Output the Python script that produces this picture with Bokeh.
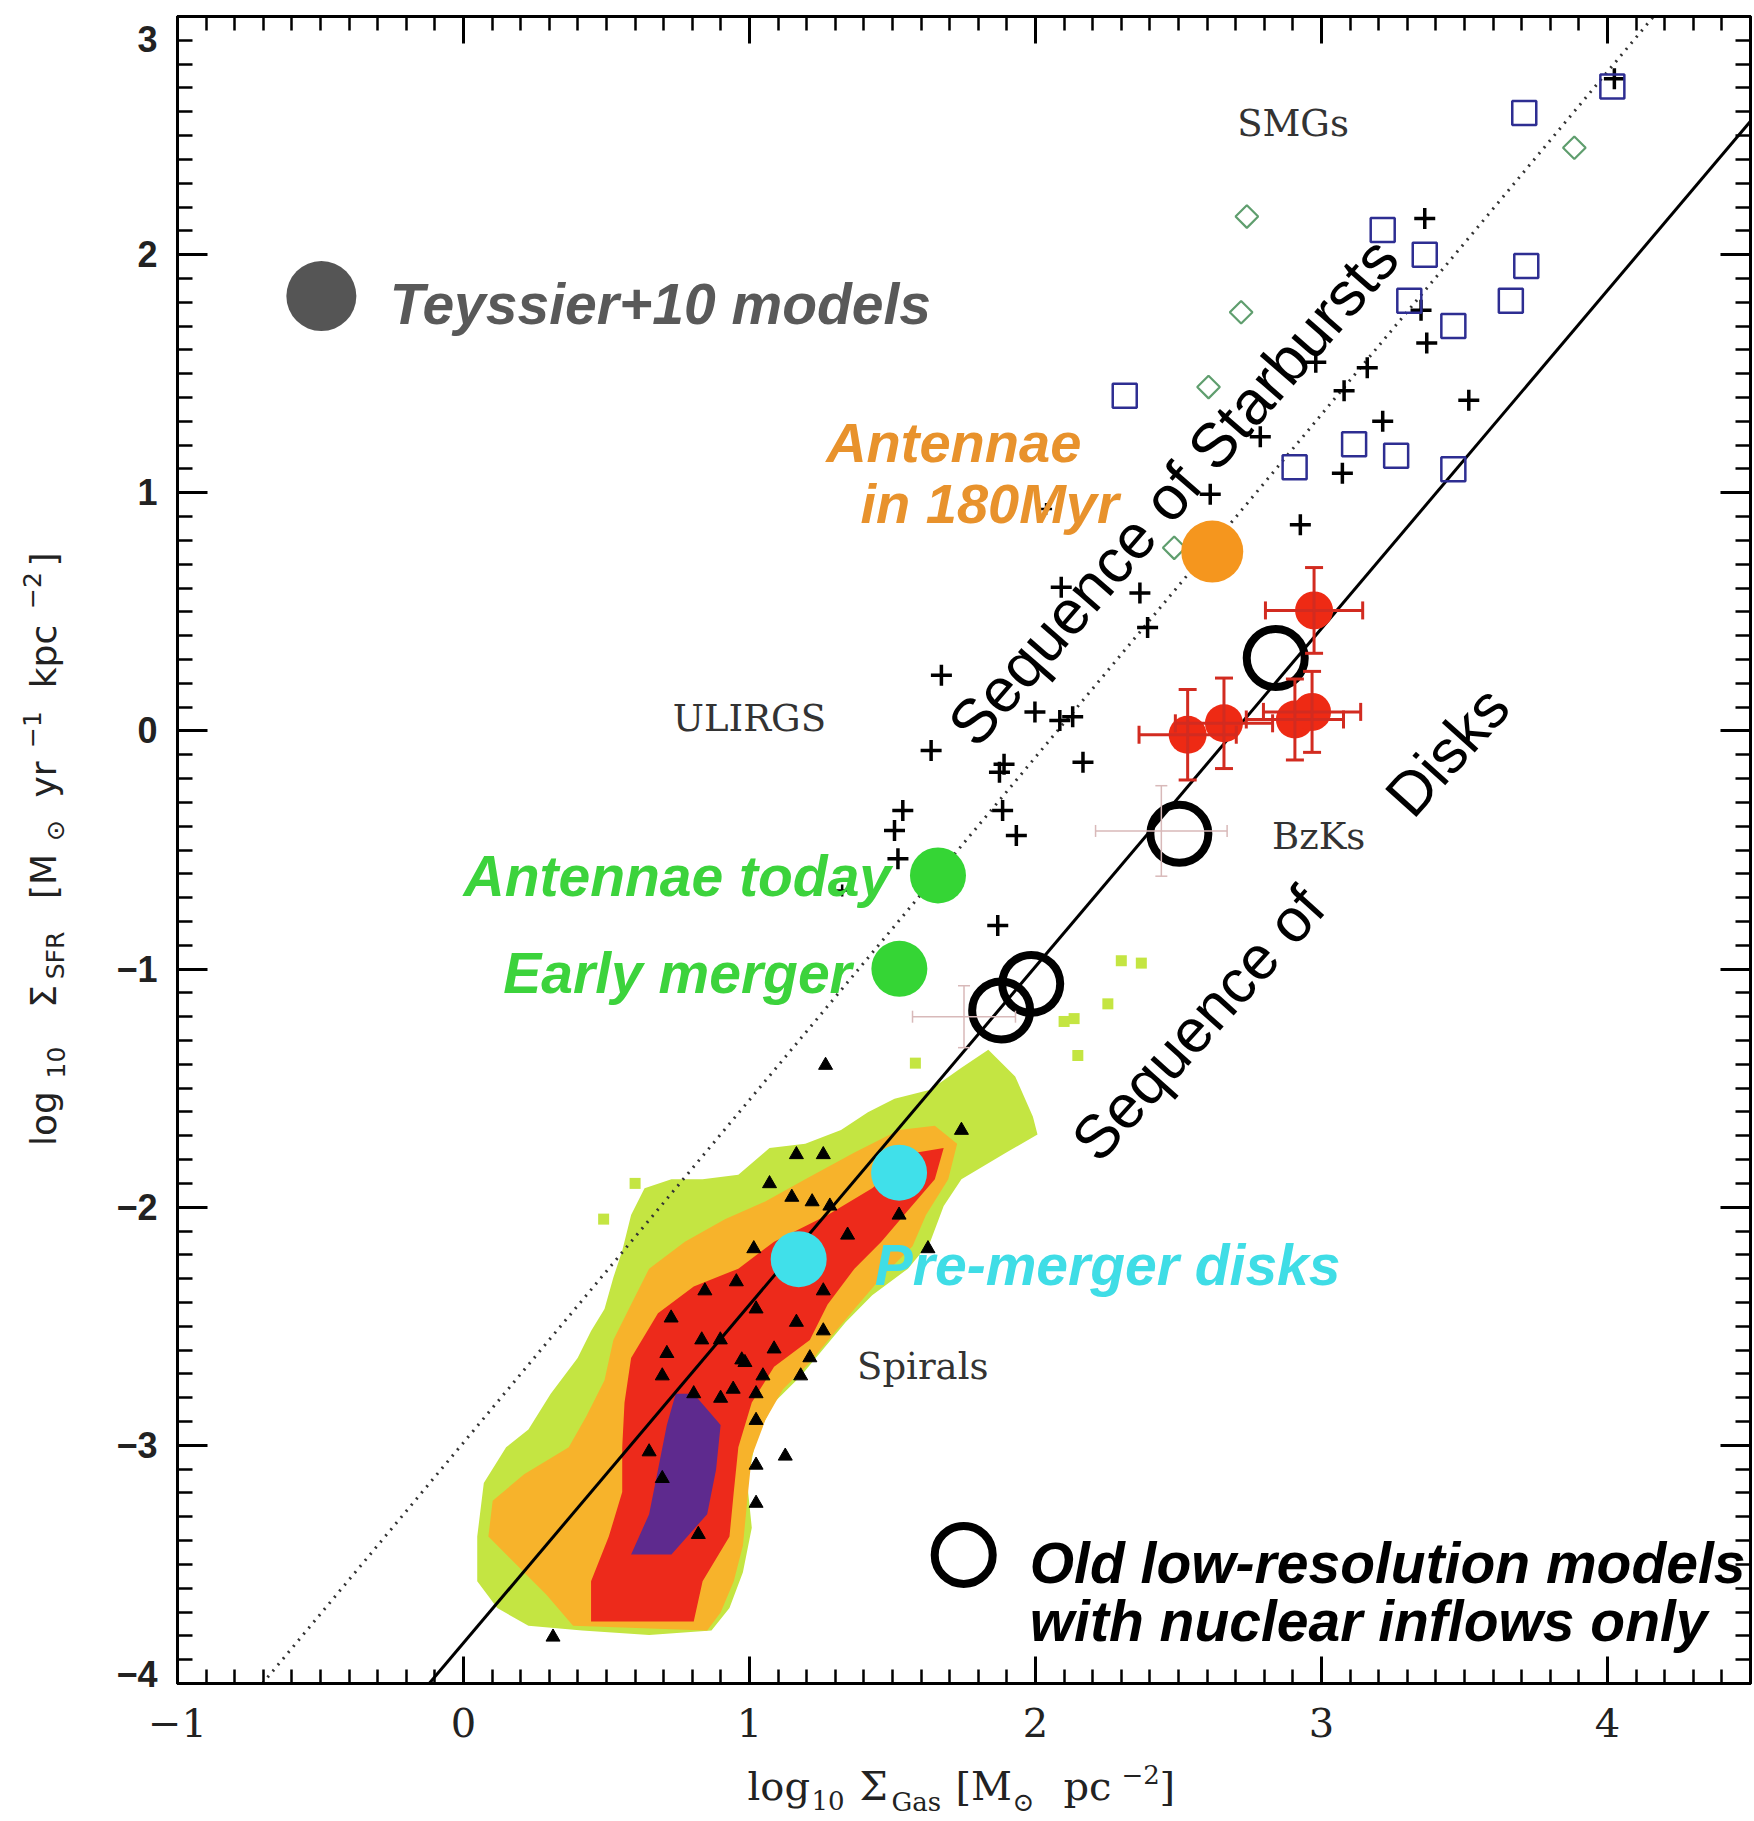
import numpy as np
from bokeh.plotting import figure
from bokeh.layouts import row, column
from bokeh.models import (ColumnDataSource, Range1d, LinearAxis, FixedTicker, Label,
                          Whisker, TeeHead)
from bokeh.embed import file_html
from bokeh.resources import INLINE

# ---------------- data ----------------
# Kennicutt-Schmidt sequences (end points of the drawn lines)
disk_line_x = [-0.12, 4.5]
disk_line_y = [-4.0, 2.56]
sb_line_x = [-0.703, 4.161]
sb_line_y = [-4.0, 3.0]

# ULIRGs (black plus signs)
ulirg_x = [4.024, 3.361, 3.348, 3.368, 2.980, 3.160, 3.079, 3.515, 3.214, 2.786, 3.073, 2.611,
           2.926, 2.365, 2.090, 2.392, 1.671, 1.998, 2.085, 2.130, 1.635, 2.166, 1.874, 1.890,
           1.885, 1.536, 1.507, 1.933, 1.519, 1.868]
ulirg_y = [2.739, 2.152, 1.767, 1.629, 1.548, 1.525, 1.428, 1.389, 1.300, 1.235, 1.082, 0.994,
           0.866, 0.579, 0.603, 0.434, 0.234, 0.079, 0.044, 0.060, -0.082, -0.131, -0.173, -0.140,
           -0.334, -0.334, -0.418, -0.439, -0.537, -0.817]
ulirg_small_x = [2.037, 1.324]
ulirg_small_y = [0.932, -0.670]

# SMGs (blue open squares)
smg_x = [4.017, 3.709, 3.214, 3.361, 3.716, 3.307, 3.662, 3.461, 2.906, 3.114, 3.261, 3.461, 2.312]
smg_y = [2.706, 2.595, 2.103, 2.000, 1.952, 1.806, 1.806, 1.700, 1.107, 1.204, 1.155, 1.099, 1.407]

# green open diamonds
dia_x = [3.884, 2.739, 2.719, 2.605, 2.485]
dia_y = [2.449, 2.160, 1.758, 1.444, 0.769]

# Spirals (black triangles)
tri_x = [1.266, 1.741, 1.164, 1.258, 1.070, 1.148, 1.219, 1.281, 1.523, 1.624, 1.015, 1.343,
         0.954, 0.844, 0.726, 1.258, 1.023, 1.164, 1.258, 0.898, 0.711, 1.086, 1.211, 0.984,
         0.695, 1.047, 1.179, 0.805, 0.899, 1.023, 1.023, 0.649, 1.023, 1.125, 1.023, 0.821,
         0.313, 0.695, 0.943, 0.973, 0.833]
tri_y = [-1.404, -1.677, -1.779, -1.779, -1.901, -1.958, -1.977, -1.995, -2.033, -2.174, -2.174,
         -2.117, -2.313, -2.351, -2.465, -2.351, -2.427, -2.483, -2.519, -2.557, -2.614, -2.595,
         -2.632, -2.652, -2.708, -2.708, -2.708, -2.783, -2.802, -2.783, -2.895, -3.027, -3.083,
         -3.045, -3.243, -3.374, -3.805, -3.139, -2.764, -2.641, -2.557]

# BzKs (red filled circles with error bars)
bzk_x = [2.974, 2.532, 2.659, 2.907, 2.967]
bzk_y = [0.506, -0.016, 0.032, 0.048, 0.080]
bzk_xerr = [0.17, 0.17, 0.17, 0.17, 0.17]
bzk_yerr = [0.18, 0.19, 0.19, 0.17, 0.17]

# faint error crosses
faint_x = [2.44, 1.75]
faint_y = [-0.42, -1.20]
faint_xerr = [0.23, 0.18]
faint_yerr = [0.19, 0.13]

# old low-resolution models (black open circles)
old_x = [2.840, 2.503, 1.985, 1.880]
old_y = [0.306, -0.432, -1.062, -1.174]

# Teyssier+10 model points
antennae180_x, antennae180_y = [2.618], [0.753]
antennae_today_x, antennae_today_y = [1.659], [-0.607]
early_merger_x, early_merger_y = [1.524], [-0.999]
premerger_x = [1.172, 1.523]
premerger_y = [-2.218, -1.855]

# legend symbols
legend_teyssier_x, legend_teyssier_y = [-0.497], [1.826]
legend_old_x, legend_old_y = [1.749], [-3.460]

# Spirals density map (contour levels as polygons)
green_px = [0.227, 0.118, 0.048, 0.048, 0.071, 0.149, 0.227, 0.305, 0.399, 0.446, 0.493, 0.524,
            0.555, 0.586, 0.633, 0.727, 0.836, 0.961, 1.070, 1.195, 1.320, 1.414, 1.507, 1.632,
            1.741, 1.835, 1.929, 1.991, 2.007, 1.898, 1.741, 1.679, 1.632, 1.554, 1.429, 1.336,
            1.258, 1.180, 1.086, 1.023, 0.992, 1.008, 0.977, 0.930, 0.867, 0.649, 0.415]
green_py = [-3.758, -3.683, -3.571, -3.383, -3.158, -3.008, -2.933, -2.783, -2.633, -2.520,
            -2.427, -2.295, -2.183, -2.033, -1.920, -1.883, -1.883, -1.864, -1.751, -1.733,
            -1.676, -1.601, -1.545, -1.507, -1.414, -1.339, -1.451, -1.620, -1.695, -1.770,
            -1.883, -1.995, -2.145, -2.258, -2.370, -2.483, -2.595, -2.708, -2.820, -2.970,
            -3.158, -3.346, -3.533, -3.683, -3.777, -3.796, -3.777]
orange_px = [0.383, 0.290, 0.181, 0.087, 0.102, 0.212, 0.368, 0.430, 0.493, 0.524, 0.586, 0.649,
             0.774, 0.914, 1.055, 1.195, 1.367, 1.523, 1.648, 1.726, 1.695, 1.617, 1.570, 1.461,
             1.367, 1.289, 1.211, 1.117, 1.055, 1.008, 0.992, 0.977, 0.945, 0.899, 0.852]
orange_py = [-3.758, -3.627, -3.496, -3.383, -3.233, -3.121, -3.008, -2.877, -2.727, -2.558,
             -2.408, -2.258, -2.145, -2.051, -1.976, -1.883, -1.770, -1.676, -1.658, -1.733,
             -1.883, -2.033, -2.164, -2.295, -2.427, -2.539, -2.652, -2.764, -2.895, -3.046,
             -3.233, -3.421, -3.571, -3.702, -3.777]
red_px = [0.446, 0.446, 0.508, 0.555, 0.555, 0.563, 0.586, 0.680, 0.805, 0.961, 1.086, 1.273,
          1.429, 1.585, 1.679, 1.648, 1.554, 1.461, 1.367, 1.273, 1.211, 1.086, 1.008, 0.961,
          0.945, 0.930, 0.836, 0.805]
red_py = [-3.740, -3.571, -3.383, -3.196, -3.008, -2.820, -2.633, -2.445, -2.333, -2.258, -2.145,
          -2.033, -1.920, -1.770, -1.751, -1.883, -2.014, -2.145, -2.258, -2.408, -2.558, -2.670,
          -2.820, -3.008, -3.196, -3.383, -3.571, -3.740]
purple_px = [0.586, 0.649, 0.680, 0.711, 0.742, 0.805, 0.899, 0.883, 0.852, 0.727]
purple_py = [-3.458, -3.289, -3.102, -2.914, -2.783, -2.783, -2.914, -3.102, -3.289, -3.458]
blob_x = [2.30, 2.37, 2.253, 2.135, 2.148, 2.10, 1.58, 0.49, 0.60]
blob_y = [-0.965, -0.975, -1.146, -1.208, -1.363, -1.22, -1.395, -2.05, -1.90]

# axis ticks
x_ticks = [-1, 0, 1, 2, 3, 4]
y_ticks = [-4, -3, -2, -1, 0, 1, 2, 3]

# ---------------- layout geometry (page pixels) ----------------
PAGE_W, PAGE_H = 1754, 1821
YT_W = 90                      # strip for the y-axis title
MAIN_H = 1757                  # main figure height
XT_H = PAGE_H - MAIN_H         # strip for the x-axis title
FRAME_L, FRAME_R, FRAME_T, FRAME_B = 177, 1750, 16, 1683
X0, X1, Y0, Y1 = -1.0, 4.5, -4.0, 3.0
ALPHA_CORR = 0.37              # baseline correction (em)

p = figure(width=PAGE_W - YT_W, height=MAIN_H, x_range=Range1d(X0, X1), y_range=Range1d(Y0, Y1),
           output_backend="svg", toolbar_location=None,
           min_border_left=FRAME_L - YT_W, min_border_right=PAGE_W - FRAME_R,
           min_border_top=FRAME_T, min_border_bottom=MAIN_H - FRAME_B)
p.grid.visible = False
p.background_fill_color = "white"
p.border_fill_color = "white"
p.outline_line_color = "black"
p.outline_line_width = 3

fh = FRAME_B - FRAME_T
dpx_y = (Y1 - Y0) / fh

x_minor = list(np.round(np.arange(-1.0, 4.51, 0.1), 2))
y_minor = list(np.round(np.arange(-4.0, 3.01, 0.1), 2))


def style_axis(ax, ticks, minor, major_len, minor_len):
    ax.ticker = FixedTicker(ticks=ticks, minor_ticks=minor)
    ax.axis_line_width = 3
    ax.axis_line_color = "black"
    ax.major_tick_in = major_len
    ax.major_tick_out = 0
    ax.minor_tick_in = minor_len
    ax.minor_tick_out = 0
    ax.major_tick_line_width = 3
    ax.minor_tick_line_width = 2.5
    ax.major_tick_line_color = "black"
    ax.minor_tick_line_color = "black"


xb = p.xaxis[0]
style_axis(xb, x_ticks, x_minor, 27, 14)
xb.major_label_text_font = "DejaVu Serif"
xb.major_label_text_font_size = "40px"
xb.major_label_text_color = "#222222"
xb.major_label_standoff = 24
xb.major_label_overrides = {-1: "\u22121"}

yl = p.yaxis[0]
style_axis(yl, y_ticks, y_minor, 30, 15)
yl.major_label_text_font = "Liberation Sans"
yl.major_label_text_font_style = "bold"
yl.major_label_text_font_size = "36px"
yl.major_label_text_color = "#222222"
yl.major_label_text_line_height = 0.45
yl.major_label_standoff = 20
yl.major_label_overrides = {3: "\n3", -1: "\u22121", -2: "\u22122", -3: "\u22123",
                            -4: "\u22124\n"}

xt = LinearAxis()
style_axis(xt, x_ticks, x_minor, 27, 14)
xt.major_label_text_font_size = "0px"
xt.major_label_text_color = None
xt.major_label_standoff = 0
p.add_layout(xt, "above")

yr = LinearAxis()
style_axis(yr, y_ticks, y_minor, 30, 15)
yr.major_label_text_font_size = "0px"
yr.major_label_text_color = None
yr.major_label_standoff = 0
p.add_layout(yr, "right")

# ---------------- density map ----------------
p.patch(green_px, green_py, fill_color="#c4e542", line_color=None)
p.scatter(blob_x, blob_y, marker="square", size=11, fill_color="#c4e542", line_color=None)
p.patch(orange_px, orange_py, fill_color="#f7b32b", line_color=None)
p.patch(red_px, red_py, fill_color="#ed2a1b", line_color=None)
p.patch(purple_px, purple_py, fill_color="#5e2a8e", line_color=None)

# ---------------- relations ----------------
p.line(disk_line_x, disk_line_y, line_color="black", line_width=3)
p.line(sb_line_x, sb_line_y, line_color="#333333", line_width=3, line_dash="2 6")

# ---------------- data points ----------------
p.scatter(tri_x, tri_y, marker="triangle", size=14, fill_color="black", line_color="black")

faint_src = ColumnDataSource(dict(
    x=faint_x, y=faint_y,
    xl=[a - b for a, b in zip(faint_x, faint_xerr)], xu=[a + b for a, b in zip(faint_x, faint_xerr)],
    yl=[a - b for a, b in zip(faint_y, faint_yerr)], yu=[a + b for a, b in zip(faint_y, faint_yerr)]))
for dim, base, lo, up in (("width", "y", "xl", "xu"), ("height", "x", "yl", "yu")):
    p.add_layout(Whisker(source=faint_src, base=base, lower=lo, upper=up, dimension=dim,
                         line_color="#d8b9b9", line_width=1.5, level="glyph",
                         upper_head=TeeHead(size=12, line_color="#d8b9b9", line_width=1.5),
                         lower_head=TeeHead(size=12, line_color="#d8b9b9", line_width=1.5)))

bzk_src = ColumnDataSource(dict(
    x=bzk_x, y=bzk_y,
    xl=[a - b for a, b in zip(bzk_x, bzk_xerr)], xu=[a + b for a, b in zip(bzk_x, bzk_xerr)],
    yl=[a - b for a, b in zip(bzk_y, bzk_yerr)], yu=[a + b for a, b in zip(bzk_y, bzk_yerr)]))
for dim, base, lo, up in (("width", "y", "xl", "xu"), ("height", "x", "yl", "yu")):
    p.add_layout(Whisker(source=bzk_src, base=base, lower=lo, upper=up, dimension=dim,
                         line_color="#d22b20", line_width=3, level="glyph",
                         upper_head=TeeHead(size=18, line_color="#d22b20", line_width=3),
                         lower_head=TeeHead(size=18, line_color="#d22b20", line_width=3)))
p.scatter("x", "y", source=bzk_src, marker="circle", size=38, fill_color="#ee2a14", line_color=None)

p.scatter(ulirg_x, ulirg_y, marker="cross", size=21, line_color="black", line_width=3.5)
p.scatter(ulirg_small_x, ulirg_small_y, marker="cross", size=12, line_color="black", line_width=2.5)
p.scatter(smg_x, smg_y, marker="square", size=24, fill_color=None, line_color="#2e2e92", line_width=2.5)
p.scatter(dia_x, dia_y, marker="square", angle=45, angle_units="deg", size=16, fill_color=None,
          line_color="#5f9e6e", line_width=2.2)

p.scatter(old_x, old_y, marker="circle", size=58, fill_color=None, line_color="black", line_width=8)
p.scatter(legend_old_x, legend_old_y, marker="circle", size=58, fill_color=None, line_color="black", line_width=8)

p.scatter(legend_teyssier_x, legend_teyssier_y, marker="circle", size=70, fill_color="#555555", line_color=None)
p.scatter(antennae180_x, antennae180_y, marker="circle", size=62, fill_color="#f5961e", line_color=None)
p.scatter(antennae_today_x, antennae_today_y, marker="circle", size=56, fill_color="#35d535", line_color=None)
p.scatter(early_merger_x, early_merger_y, marker="circle", size=56, fill_color="#35d535", line_color=None)
p.scatter(premerger_x, premerger_y, marker="circle", size=56, fill_color="#40e0ea", line_color=None)


# ---------------- texts ----------------
def add_label(fig, text, x, y, size, color, style="bold italic", font="Liberation Sans",
              align="left", baseline="alphabetic", angle=0.0):
    fig.add_layout(Label(x=x, y=y, text=text, text_font=font, text_font_size=f"{size}px",
                         text_font_style=style, text_color=color, text_align=align,
                         text_baseline=baseline, angle=angle, angle_units="deg"))


def data_label(text, x, y, size, color, **kw):
    # y is the intended baseline; shift for the renderer's baseline placement
    add_label(p, text, x, y + ALPHA_CORR * size * dpx_y, size, color, **kw)


data_label("Teyssier+10 models", -0.258, 1.704, 57, "#595959")
data_label("Antennae", 1.268, 1.126, 56, "#e8922c")
data_label("in 180Myr", 1.388, 0.868, 56, "#e8922c")
data_label("Antennae today", 0.0, -0.699, 57, "#3cd33c")
data_label("Early merger", 0.139, -1.103, 57, "#3cd33c")
data_label("Pre-merger disks", 1.438, -2.33, 57, "#3fdde6")
data_label("Old low-resolution models", 1.98, -3.583, 57, "black")
data_label("with nuclear inflows only", 1.98, -3.828, 57, "black")

data_label("SMGs", 2.705, 2.492, 37, "#333333", style="normal", font="DejaVu Serif")
data_label("ULIRGS", 0.732, -0.005, 37, "#333333", style="normal", font="DejaVu Serif")
data_label("BzKs", 2.827, -0.499, 37, "#333333", style="normal", font="DejaVu Serif")
data_label("Spirals", 1.376, -2.726, 37, "#333333", style="normal", font="DejaVu Serif")

add_label(p, "Sequence of Starbursts", 2.481, 1.006, 62, "black", style="normal",
          align="center", baseline="middle", angle=49)
add_label(p, "Sequence of", 2.569, -1.229, 61, "black", style="normal",
          align="center", baseline="middle", angle=48)
add_label(p, "Disks", 3.440, -0.086, 61, "black", style="normal",
          align="center", baseline="middle", angle=48)

# ---------------- y-axis title strip ----------------
# its frame is given the same vertical extent as the main frame, and its data units are
# page pixels measured upward from the bottom of the strip
yfig = figure(width=YT_W, height=MAIN_H, x_range=Range1d(0, YT_W),
              y_range=Range1d(MAIN_H - FRAME_B, MAIN_H - FRAME_T),
              output_backend="svg", toolbar_location=None, x_axis_location=None,
              y_axis_location=None, min_border=0, min_border_left=0, min_border_right=0,
              min_border_top=FRAME_T, min_border_bottom=MAIN_H - FRAME_B)
yfig.grid.visible = False
yfig.outline_line_color = None
yfig.border_fill_color = "white"
yfig.background_fill_color = "white"
# (text, centre y on page, centre x on page, size)
yt_parts = [("log", 1118, 43, 36), ("10", 1062, 55, 25), ("\u03a3", 996, 43, 36),
            ("SFR", 955, 55, 25), ("[M", 876, 43, 36), ("\u2299", 830, 55, 25),
            ("yr", 779, 43, 36), ("\u22121", 729, 31, 25), ("kpc", 656, 43, 36),
            ("\u22122", 590, 31, 25), ("]", 559, 43, 36)]
for txt, fy, fx, sz in yt_parts:
    add_label(yfig, txt, fx, MAIN_H - fy, sz, "#222222", style="normal",
              font="DejaVu Sans", align="center", baseline="middle", angle=90)

# ---------------- x-axis title strip ----------------
xfig = figure(width=PAGE_W, height=XT_H, x_range=Range1d(0, PAGE_W), y_range=Range1d(XT_H, 0),
              output_backend="svg", toolbar_location=None, x_axis_location=None,
              y_axis_location=None, min_border=0, min_border_left=0, min_border_right=0,
              min_border_top=0, min_border_bottom=0)
xfig.grid.visible = False
xfig.outline_line_color = None
xfig.border_fill_color = "white"
# (text, left x on page, baseline y on page, size)
xt_parts = [("log", 747, 1800, 40), ("10", 811, 1810, 26), ("\u03a3", 859, 1800, 40),
            ("Gas", 891, 1811, 26), ("[M", 955, 1800, 40), ("\u2299", 1012, 1811, 26),
            ("pc", 1063, 1800, 40), ("\u22122", 1121, 1784, 26), ("]", 1159, 1800, 40)]
for txt, fx, fy, sz in xt_parts:
    add_label(xfig, txt, fx, fy - MAIN_H - ALPHA_CORR * sz, sz, "#222222", style="normal",
              font="DejaVu Serif")

layout = column(row(yfig, p, spacing=0), xfig, spacing=0)
open("out.html", "w").write(file_html(layout, INLINE))
